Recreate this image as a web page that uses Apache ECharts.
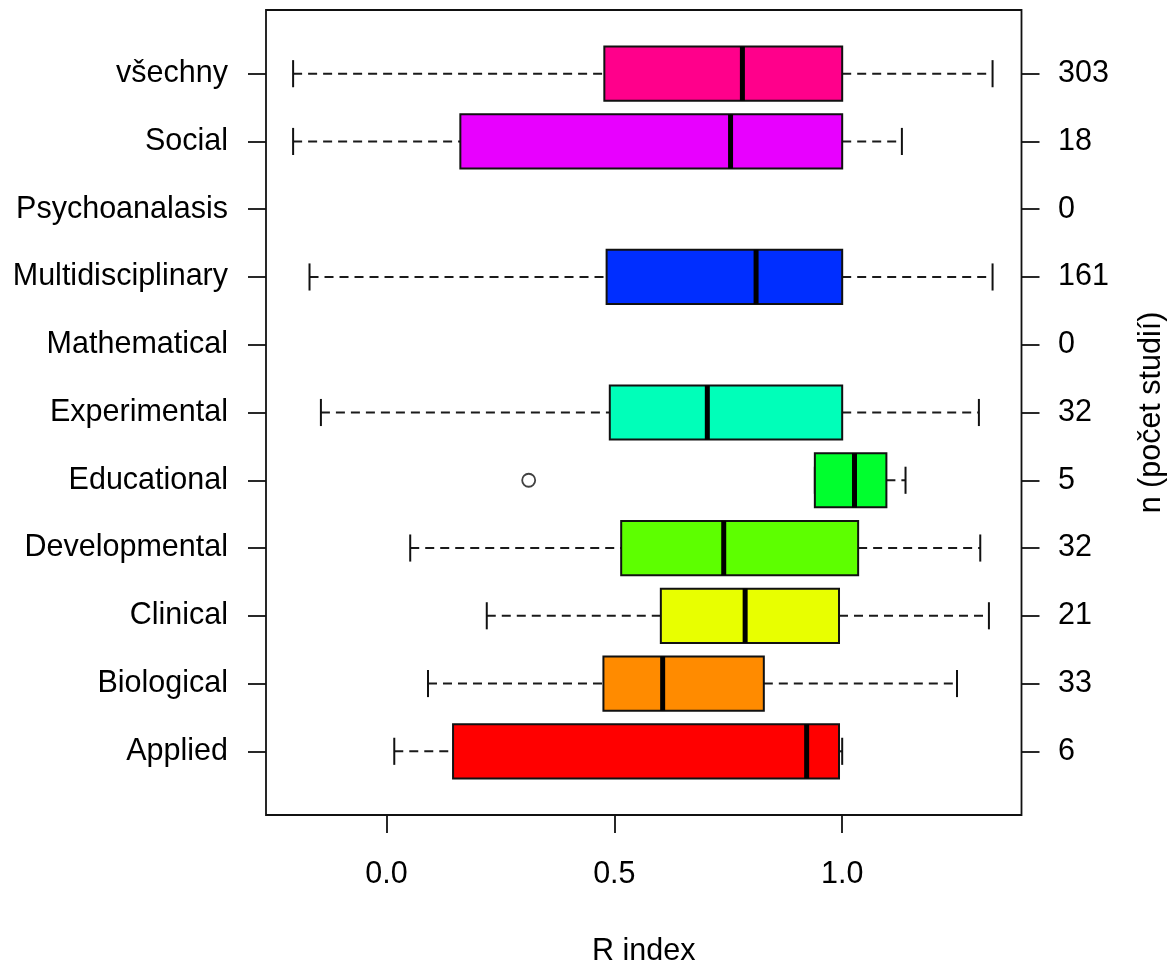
<!DOCTYPE html>
<html>
<head>
<meta charset="utf-8">
<script src="https://cdn.jsdelivr.net/npm/echarts@6/dist/echarts.min.js"></script>
<style>
html,body{margin:0;padding:0;background:#fff;}
#chart{width:1175px;height:963px;}
</style>
</head>
<body>
<div id="chart"></div>
<script>
// Categories from bottom (position 1) to top (position 11)
const categories = ['Applied','Biological','Clinical','Developmental','Educational','Experimental','Mathematical','Multidisciplinary','Psychoanalasis','Social','všechny'];
const counts      = [6, 33, 21, 32, 5, 32, 0, 161, 0, 18, 303];
const whiskerLow  = [0.017, 0.091, 0.220, 0.052, 0.940, -0.144, null, -0.169, null, -0.205, -0.205];
const q1          = [0.146, 0.476, 0.602, 0.515, 0.940, 0.490, null, 0.483, null, 0.162, 0.478];
const medians     = [0.922, 0.606, 0.787, 0.740, 1.027, 0.704, null, 0.811, null, 0.755, 0.781];
const q3          = [0.993, 0.828, 0.993, 1.035, 1.097, 1.000, null, 1.000, null, 1.000, 1.000];
const whiskerHigh = [1.000, 1.252, 1.322, 1.303, 1.139, 1.300, null, 1.330, null, 1.131, 1.330];
const outlierValues = [0.312];
const outlierCategory = ['Educational'];
const colors = ['#FF0000','#FF8B00','#E8FF00','#5DFF00','#00FF2E','#00FFB9','#00B9FF','#002EFF','#5D00FF','#E800FF','#FF008B'];
const xTicks = [0, 0.5, 1.0];

const positions = categories.map((c, i) => i + 1);
const boxData = [];
categories.forEach((c, i) => {
  if (medians[i] === null) return;
  boxData.push({ value: [positions[i], whiskerLow[i], q1[i], medians[i], q3[i], whiskerHigh[i]], itemStyle: { color: colors[i] } });
});
const outlierData = outlierValues.map((v, k) => [v, categories.indexOf(outlierCategory[k]) + 1]);

const FONT = '"Liberation Sans", Arial, sans-serif';
const FS = 30.5;
const LINE = '#111';
const HALF = 0.4, CAP = 0.2;

function renderBox(params, api) {
  const pos = api.value(0);
  const lo = api.value(1), a = api.value(2), m = api.value(3), b = api.value(4), hi = api.value(5);
  const color = api.visual('color');
  const p = (x, y) => api.coord([x, y]);
  const dash = { stroke: '#1a1a1a', lineWidth: 2.1, lineDash: [9, 6] };
  const solid = { stroke: LINE, lineWidth: 2 };
  const children = [];
  const line = (x1, y1, x2, y2, style) => {
    const s = p(x1, y1), e = p(x2, y2);
    children.push({ type: 'line', shape: { x1: s[0], y1: s[1], x2: e[0], y2: e[1] }, style: style });
  };
  if (lo < a) line(lo, pos, a, pos, dash);
  if (hi > b) line(b, pos, hi, pos, dash);
  line(lo, pos - CAP, lo, pos + CAP, solid);
  line(hi, pos - CAP, hi, pos + CAP, solid);
  const tl = p(a, pos + HALF), br = p(b, pos - HALF);
  children.push({ type: 'rect', shape: { x: tl[0], y: tl[1], width: br[0] - tl[0], height: br[1] - tl[1] },
    style: { fill: color, stroke: LINE, lineWidth: 2 } });
  line(m, pos - HALF, m, pos + HALF, { stroke: '#000', lineWidth: 5 });
  return { type: 'group', children: children };
}

const chart = echarts.init(document.getElementById('chart'), null, { renderer: 'canvas' });
chart.setOption({
  animation: false,
  backgroundColor: '#fff',
  grid: { left: 266, right: 153.5, top: 10, bottom: 148, outerBoundsMode: 'none', containLabel: false,
    show: true, borderColor: LINE, borderWidth: 1.8, backgroundColor: 'transparent' },
  xAxis: {
    type: 'value', min: -0.2645, max: 1.3935,
    name: 'R index', nameLocation: 'middle', nameGap: 121,
    nameTextStyle: { fontFamily: FONT, fontSize: FS, color: '#000' },
    axisLine: { show: false, onZero: false },
    axisTick: { show: true, length: 18, lineStyle: { color: LINE, width: 1.8 }, customValues: xTicks },
    axisLabel: { show: true, customValues: xTicks, margin: 44, fontFamily: FONT, fontSize: FS, color: '#000', formatter: v => Number(v).toFixed(1) },
    splitLine: { show: false }
  },
  yAxis: [
    {
      type: 'value', min: 0.06, max: 11.94, position: 'left',
      axisLine: { show: false, onZero: false },
      axisTick: { show: true, length: 18, lineStyle: { color: LINE, width: 1.8 }, customValues: positions },
      axisLabel: { show: true, customValues: positions, margin: 38, fontFamily: FONT, fontSize: FS, color: '#000', formatter: v => categories[Math.round(v) - 1] },
      splitLine: { show: false }
    },
    {
      type: 'value', min: 0.06, max: 11.94, position: 'right',
      name: 'n (počet studií)', nameLocation: 'middle', nameGap: 115,
      nameTextStyle: { fontFamily: FONT, fontSize: FS, color: '#000' },
      axisLine: { show: false, onZero: false },
      axisTick: { show: true, length: 18, lineStyle: { color: LINE, width: 1.8 }, customValues: positions },
      axisLabel: { show: true, customValues: positions, margin: 36.5, fontFamily: FONT, fontSize: FS, color: '#000', formatter: v => String(counts[Math.round(v) - 1]) },
      splitLine: { show: false }
    }
  ],
  series: [
    {
      type: 'custom', xAxisIndex: 0, yAxisIndex: 0,
      renderItem: renderBox,
      encode: { x: [1, 2, 3, 4, 5], y: 0 },
      data: boxData, clip: false
    },
    {
      type: 'scatter', xAxisIndex: 0, yAxisIndex: 0,
      symbol: 'circle', symbolSize: 13,
      itemStyle: { color: '#fff', borderColor: LINE, borderWidth: 1.8 },
      data: outlierData
    }
  ]
});
</script>
</body>
</html>
